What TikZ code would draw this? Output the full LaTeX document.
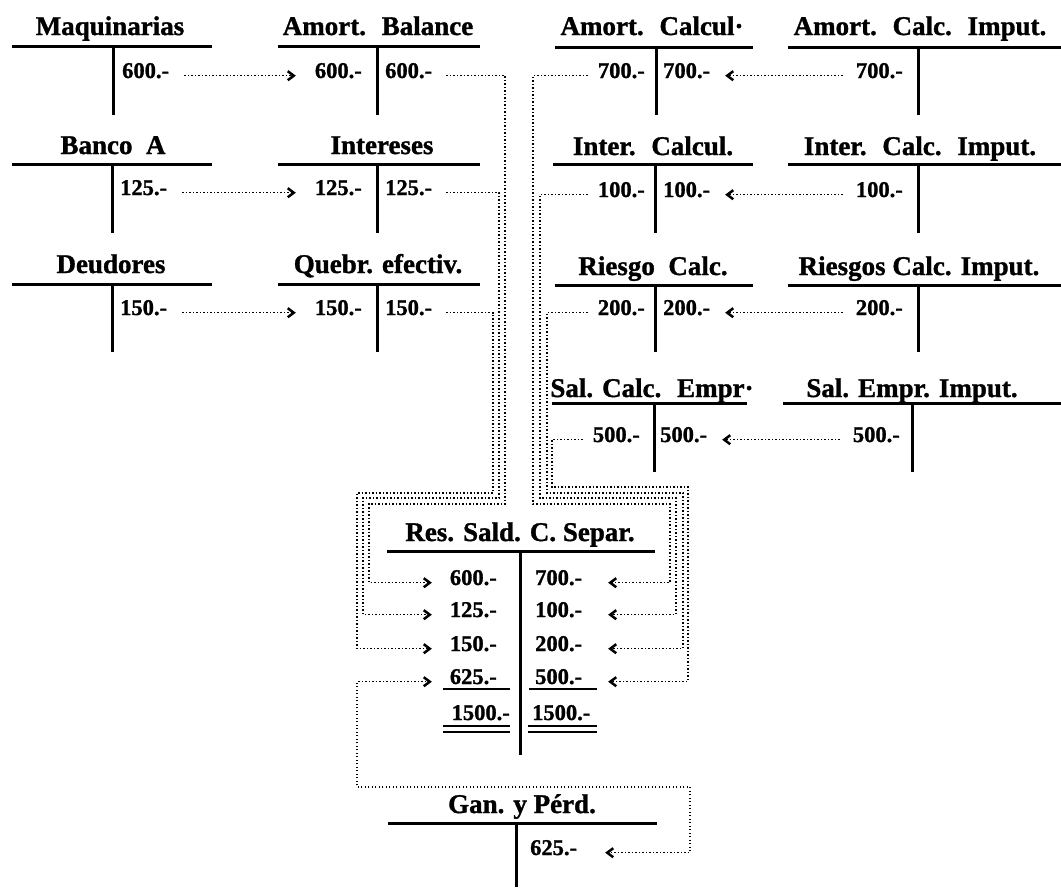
\documentclass[tikz,border=0pt]{standalone}
\usepackage{fontspec}
\setmainfont{Liberation Serif}[BoldFeatures={FakeBold=1.2}]
\usetikzlibrary{decorations.markings}
\tikzset{
  tline/.style={line width=3pt},
  uline/.style={line width=2.6pt},
  ttitle/.style={font=\fontsize{27}{30}\selectfont\bfseries, inner sep=0pt, anchor=base},
  numl/.style={font=\fontsize{22.5}{25}\selectfont\bfseries, inner sep=0pt, anchor=base west},
  numr/.style={font=\fontsize{22.5}{25}\selectfont\bfseries, inner sep=0pt, anchor=base east},
  conn/.style={line width=1.3pt, dash pattern=on 1.3pt off 2.2pt},
  chev/.style={solid, line width=2.5pt, line join=miter, line cap=butt},
  tip/.style={postaction={decorate, decoration={markings,
      mark=at position 1 with {\draw[chev] (-6pt,-4.5pt) -- (0pt,0pt) -- (-6pt,4.5pt);}}}},
  tips/.style={postaction={decorate, decoration={markings,
      mark=at position 0 with {\draw[chev] (6pt,-4.5pt) -- (0pt,0pt) -- (6pt,4.5pt);},
      mark=at position 1 with {\draw[chev] (-6pt,-4.5pt) -- (0pt,0pt) -- (-6pt,4.5pt);}}}},
}
\newcommand{\tacct}[5]{\draw[tline] (#1,#3) -- (#2,#3); \draw[tline] (#4,#3) -- (#4,#5);}
\begin{document}
\begin{tikzpicture}[x=1pt,y=-1pt]
\useasboundingbox (0,0) rectangle (1061,887);
% ---- column 1
\node[ttitle] (maqT) at (110,35) {Maquinarias};
\tacct{12}{212}{46}{113}{115}
\node[numl] (maq600) at (122,78) {600.-};
\node[ttitle] (banT) at (113,154) {Banco~ A};
\tacct{12}{212}{164}{112}{233}
\node[numl] (ban125) at (120,195) {125.-};
\node[ttitle] (deuT) at (111,273) {Deudores};
\tacct{12}{212}{284}{112}{352}
\node[numl] (deu150) at (120,315) {150.-};
% ---- column 2
\node[ttitle] (abT) at (378,35) {Amort.~ Balance};
\tacct{278}{480}{46}{377}{115}
\node[numr] (ab600l) at (362,78) {600.-};
\node[numl] (ab600r) at (385,78) {600.-};
\node[ttitle] (intT) at (382,154) {Intereses};
\tacct{278}{480}{164}{377}{233}
\node[numr] (int125l) at (362,195) {125.-};
\node[numl] (int125r) at (385,195) {125.-};
\node[ttitle] (qT) at (378,273) {Quebr. efectiv.};
\tacct{278}{480}{284}{377}{352}
\node[numr] (q150l) at (362,315) {150.-};
\node[numl] (q150r) at (385,315) {150.-};
% ---- column 3
\node[ttitle] (acT) at (652,35) {Amort.~ Calcul·};
\tacct{555}{753}{47}{656}{115}
\node[numr] (ac700l) at (645,78) {700.-};
\node[numl] (ac700r) at (663,78) {700.-};
\node[ttitle] (icT) at (653,155) {Inter.~ Calcul.};
\tacct{553}{753}{164}{655}{233}
\node[numr] (ic100l) at (645,197) {100.-};
\node[numl] (ic100r) at (663,197) {100.-};
\node[ttitle] (rcT) at (653,275) {Riesgo~ Calc.};
\tacct{555}{753}{285}{655}{352}
\node[numr] (rc200l) at (645,315) {200.-};
\node[numl] (rc200r) at (663,315) {200.-};
\node[ttitle] (scT) at (652,397) {Sal. Calc.~ Empr·};
\tacct{552}{747}{403}{654}{472}
\node[numr] (sc500l) at (640,442) {500.-};
\node[numl] (sc500r) at (660,442) {500.-};
% ---- column 4
\node[ttitle] (aciT) at (920,35) {Amort.~ Calc.~ Imput.};
\tacct{788}{1061}{47}{918}{115}
\node[numr] (aci700) at (903,78) {700.-};
\node[ttitle] (iciT) at (920,155) {Inter.~ Calc.~ Imput.};
\tacct{788}{1061}{164}{918}{233}
\node[numr] (ici100) at (903,197) {100.-};
\node[ttitle] (rciT) at (919,275) {Riesgos Calc. Imput.};
\tacct{788}{1061}{285}{918}{352}
\node[numr] (rci200) at (903,315) {200.-};
\node[ttitle] (seiT) at (912,397) {Sal. Empr. Imput.};
\tacct{783}{1061}{403}{912}{472}
\node[numr] (sei500) at (900,442) {500.-};
% ---- Res. Sald. C. Separ.
\node[ttitle] (rsT) at (520,541) {Res. Sald. C. Separ.};
\tacct{387}{655}{551}{520}{755}
\node[numr] (rs600) at (497,585) {600.-};
\node[numr] (rs125) at (497,617) {125.-};
\node[numr] (rs150) at (497,651) {150.-};
\node[numr] (rs625) at (497,684) {625.-};
\node[numr] (rs1500l) at (510,720) {1500.-};
\node[numl] (rs700) at (535,585) {700.-};
\node[numl] (rs100) at (535,617) {100.-};
\node[numl] (rs200) at (535,651) {200.-};
\node[numl] (rs500) at (535,684) {500.-};
\node[numl] (rs1500r) at (532,720) {1500.-};
\draw[uline] (443,689) -- (510,689);
\draw[uline] (529,689) -- (597,689);
\draw[uline] (443,726) -- (510,726);
\draw[uline] (443,732) -- (510,732);
\draw[uline] (528,726) -- (597,726);
\draw[uline] (528,732) -- (597,732);
% ---- Gan. y Pérd.
\node[ttitle] (gpT) at (522,813) {Gan. y Pérd.};
\tacct{388}{657}{823}{516}{887}
\node[numl] (gp625) at (530,855) {625.-};
% ---- straight connectors
\draw[conn,tip] ([xshift=15pt]maq600.mid east) -- ([xshift=-21pt]ab600l.mid west);
\draw[conn,tip] ([xshift=15pt]ban125.mid east) -- ([xshift=-21pt]int125l.mid west);
\draw[conn,tip] ([xshift=15pt]deu150.mid east) -- ([xshift=-21pt]q150l.mid west);
\draw[conn,tip] ([xshift=-13pt]aci700.mid west) -- ([xshift=17pt]ac700r.mid east);
\draw[conn,tip] ([xshift=-13pt]ici100.mid west) -- ([xshift=17pt]ic100r.mid east);
\draw[conn,tip] ([xshift=-13pt]rci200.mid west) -- ([xshift=17pt]rc200r.mid east);
\draw[conn,tip] ([xshift=-13pt]sei500.mid west) -- ([xshift=17pt]sc500r.mid east);
% ---- routed connectors, left group
\draw[conn,tip] ([xshift=14pt]ab600r.mid east) -| (505,504) -- (369,504) |- ([xshift=-20pt]rs600.mid west);
\draw[conn,tip] ([xshift=14pt]int125r.mid east) -| (499,498) -- (363,498) |- ([xshift=-20pt]rs125.mid west);
\draw[conn,tip] ([xshift=14pt]q150r.mid east) -| (493,493) -- (357,493) |- ([xshift=-20pt]rs150.mid west);
% ---- routed connectors, right group
\draw[conn,tip] ([xshift=-10pt]ac700l.mid west) -| (533,504) -- (670,504) |- ([xshift=28pt]rs700.mid east);
\draw[conn,tip] ([xshift=-10pt]ic100l.mid west) -| (540,498) -- (676,498) |- ([xshift=28pt]rs100.mid east);
\draw[conn,tip] ([xshift=-10pt]rc200l.mid west) -| (547,493) -- (683,493) |- ([xshift=28pt]rs200.mid east);
\draw[conn,tip] ([xshift=-10pt]sc500l.mid west) -| (552,487) -- (688,487) |- ([xshift=28pt]rs500.mid east);
% ---- 625 closing
\draw[conn,tips] ([xshift=30pt]gp625.mid east) -| (690,787) -- (357,787) |- ([xshift=-20pt]rs625.mid west);
\end{tikzpicture}
\end{document}
